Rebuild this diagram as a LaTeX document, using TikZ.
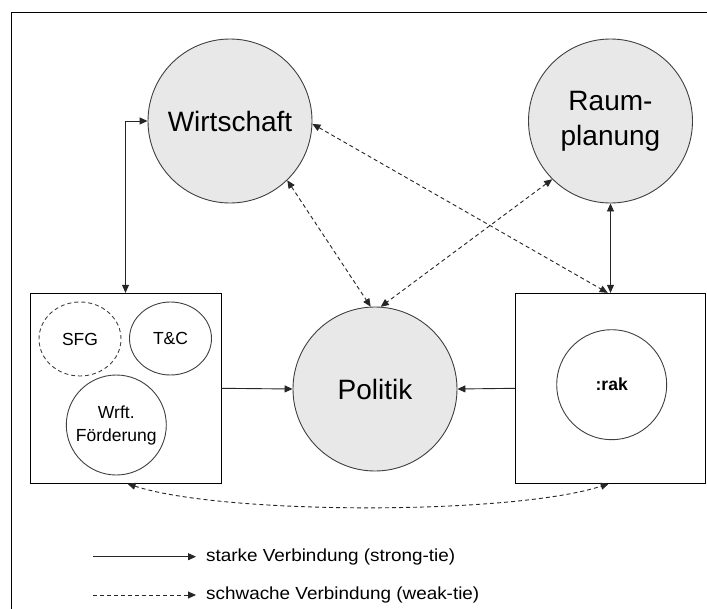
\documentclass[tikz,border=0pt]{standalone}
\usepackage{fontspec}
\setmainfont{Liberation Sans}
\newfontfamily\legendfont[FakeStretch=1.08]{Liberation Sans}
\usetikzlibrary{arrows.meta,shapes.geometric}
\begin{document}
\begin{tikzpicture}[x=1pt,y=-1pt,
  >={Triangle[length=8pt,width=7pt]},
  bigcirc/.style={circle,draw=black!75,fill=black!9,line width=0.9pt,minimum size=164pt,inner sep=0pt,align=center,font=\fontsize{28}{35}\selectfont},
  smallell/.style={ellipse,draw=black!75,line width=0.9pt,inner sep=0pt,align=center,font=\fontsize{17.5}{23}\selectfont},
  groupbox/.style={rectangle,draw=black,line width=0.9pt,minimum width=191pt,minimum height=190pt,inner sep=0pt},
  strong/.style={line width=0.9pt,draw=black!85},
  weak/.style={line width=0.9pt,draw=black!85,dash pattern=on 4pt off 3pt},
  legendtext/.style={anchor=west,inner sep=0pt,font=\legendfont\fontsize{17.5}{22}\selectfont}]
\clip (0,0) rectangle (707,608);
\fill[white] (0,0) rectangle (707,608);
% frame
\draw[line width=1pt] (11.7,640) |- (740,12.7);
% main circles
\node[bigcirc] (wirt) at (230,121) {Wirtschaft};
\node[bigcirc] (raum) at (610.5,121) {Raum-\\planung};
\node[bigcirc] (pol) at (375,389) {Politik};
% boxes
\node[groupbox] (lbox) at (125.5,388.3) {};
\node[groupbox,minimum width=190pt] (rbox) at (610.7,388.3) {};
% inner ellipses
\node[smallell,dash pattern=on 4pt off 3pt,minimum width=82pt,minimum height=74pt] (sfg) at (80,339) {SFG};
\node[smallell,minimum width=82pt,minimum height=73pt] (tc) at (170.5,338.5) {T\&C};
\node[smallell,circle,minimum size=100pt] (wrft) at (116.3,425) {Wrft.\\Förderung};
\node[smallell,circle,minimum size=110pt,font=\fontsize{17.5}{22}\selectfont\bfseries] (rak) at (611.7,384.7) {:rak};
% strong ties
\draw[strong,<->] (wirt.west) -| (lbox.north);
\draw[strong,<->] (raum.south) -- (rbox.north -| raum.south);
\draw[strong,->] (lbox.east) -- (pol.west);
\draw[strong,->] (rbox.west) -- (pol.east);
% weak ties
\draw[weak,<->] (wirt.-2) -- ([xshift=-3pt]rbox.north);
\draw[weak,<->] (wirt.-46) -- (pol.93);
\draw[weak,<->] (raum.-135) -- (pol.86);
\draw[weak,<->] ([xshift=2pt]lbox.south) to[out=-18,in=-162,looseness=0.54] ([xshift=-2pt]rbox.south);
% legend
\coordinate (ls1) at (93,556.7);
\coordinate (le1) at (196,556.7);
\coordinate (ls2) at (93,595);
\coordinate (le2) at (196,595);
\draw[strong,->] (ls1) -- (le1);
\draw[weak,->] (ls2) -- (le2);
\node[legendtext] (lt1) at (206,556.7) {starke Verbindung (strong-tie)};
\node[legendtext] (lt2) at (206,595) {schwache Verbindung (weak-tie)};
\end{tikzpicture}
\end{document}
